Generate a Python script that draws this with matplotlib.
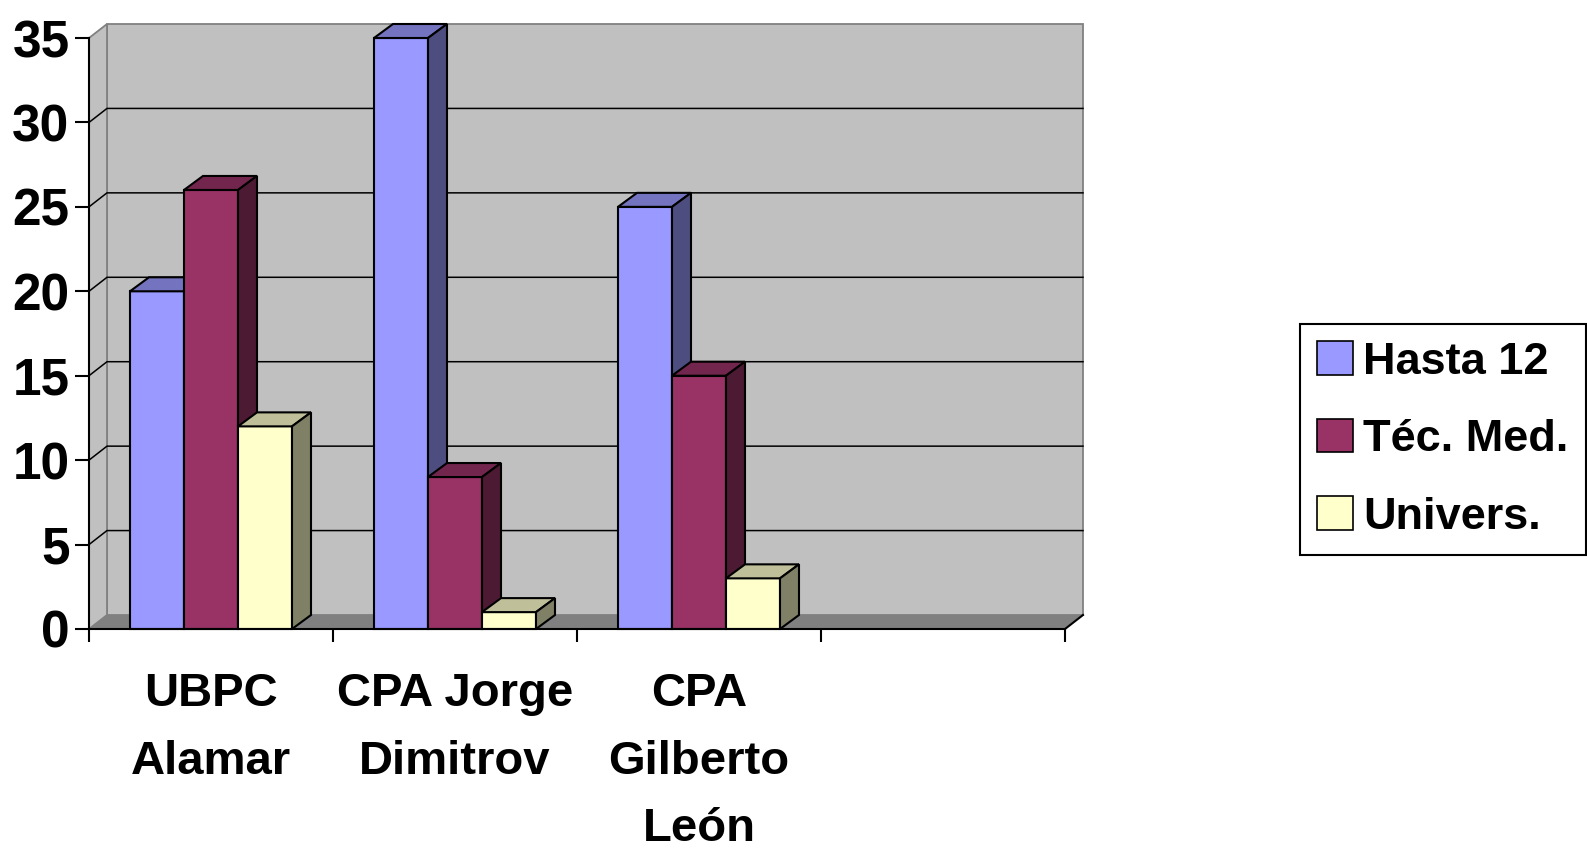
import matplotlib
matplotlib.use("Agg")
import matplotlib.pyplot as plt
from matplotlib.patches import Polygon, Patch
from matplotlib.lines import Line2D

# ---- data ----
categories = ["UBPC\nAlamar", "CPA Jorge\nDimitrov", "CPA\nGilberto\nLeón", ""]
series_names = ["Hasta 12", "Téc. Med.", "Univers."]
hasta_12 = [20, 35, 25]
tec_med = [26, 9, 15]
univers = [12, 1, 3]
y_ticks = [0, 5, 10, 15, 20, 25, 30, 35]

# ---- styling ----
front_colors = ["#9999FF", "#993366", "#FFFFCC"]
top_colors = ["#7373BF", "#73264D", "#BFBF99"]
side_colors = ["#4D4D80", "#4D1A33", "#808066"]
wall_color = "#C0C0C0"
floor_color = "#808080"
edge_gray = "#808080"
FONT = "Liberation Sans"

W_PX, H_PX, DPI = 1587, 851, 100
fig = plt.figure(figsize=(W_PX / DPI, H_PX / DPI), dpi=DPI)

ax_left, ax_right = 89, 1065
ax_top, ax_bottom = 38, 629
ax = fig.add_axes([ax_left / W_PX, (H_PX - ax_bottom) / H_PX,
                   (ax_right - ax_left) / W_PX, (ax_bottom - ax_top) / H_PX])
n_cat = len(categories)
y_max = y_ticks[-1]
ax.set_xlim(0, n_cat)
ax.set_ylim(0, y_max)
ax.patch.set_visible(False)

# pixel -> data unit conversions for the depth offsets
px_x = (ax_right - ax_left) / n_cat
px_y = (ax_bottom - ax_top) / y_max
wall_dx, wall_dy = 18 / px_x, 14 / px_y
bar_dx, bar_dy = 19 / px_x, 14 / px_y

# ---- walls and floor ----
back = Polygon([(wall_dx, wall_dy), (n_cat + wall_dx, wall_dy),
                (n_cat + wall_dx, y_max + wall_dy), (wall_dx, y_max + wall_dy)],
               closed=True, facecolor=wall_color, edgecolor=edge_gray, lw=1.3,
               clip_on=False, zorder=0.5)
side = Polygon([(0, 0), (0, y_max), (wall_dx, y_max + wall_dy), (wall_dx, wall_dy)],
               closed=True, facecolor=wall_color, edgecolor=edge_gray, lw=1.3,
               clip_on=False, zorder=0.6)
floor = Polygon([(0, 0), (n_cat, 0), (n_cat + wall_dx, wall_dy), (wall_dx, wall_dy)],
                closed=True, facecolor=floor_color, edgecolor="none",
                clip_on=False, zorder=0.7)
for p in (back, side, floor):
    ax.add_patch(p)

# gridlines on the back wall plus their diagonals on the side wall
for t in y_ticks[1:-1]:
    ax.add_line(Line2D([0, wall_dx, n_cat + wall_dx], [t, t + wall_dy, t + wall_dy],
                       color="black", lw=1.1, clip_on=False, zorder=0.8))
# right edge of the floor
ax.add_line(Line2D([n_cat, n_cat + wall_dx], [0, wall_dy], color="black", lw=1.5,
                   clip_on=False, zorder=0.8))

# ---- 3-D bars ----
series = [hasta_12, tec_med, univers]
bar_w = 54 / px_x
gap = (1 - len(series) * bar_w) / 2
z = 2.0
for j in range(len(hasta_12)):
    for i, vals in enumerate(series):
        v = vals[j]
        x0 = j + gap + i * bar_w
        z += 0.01
        ax.bar(x0, v, width=bar_w, align="edge", color=front_colors[i],
               edgecolor="black", lw=1.5, zorder=z, clip_on=False)
        top = Polygon([(x0, v), (x0 + bar_w, v), (x0 + bar_w + bar_dx, v + bar_dy),
                       (x0 + bar_dx, v + bar_dy)], closed=True,
                      facecolor=top_colors[i], edgecolor="black", lw=1.5,
                      joinstyle="miter", zorder=z, clip_on=False)
        sidef = Polygon([(x0 + bar_w, 0), (x0 + bar_w, v),
                         (x0 + bar_w + bar_dx, v + bar_dy), (x0 + bar_w + bar_dx, bar_dy)],
                        closed=True, facecolor=side_colors[i], edgecolor="black",
                        lw=1.5, joinstyle="miter", zorder=z, clip_on=False)
        ax.add_patch(top)
        ax.add_patch(sidef)

# ---- axes, ticks, labels ----
for s in ("top", "right"):
    ax.spines[s].set_visible(False)
for s in ("left", "bottom"):
    ax.spines[s].set_color("black")
    ax.spines[s].set_linewidth(1.5)
    ax.spines[s].set_zorder(5)

ax.set_yticks(y_ticks)
ax.set_yticklabels([str(t) for t in y_ticks],
                   fontdict={"family": FONT, "weight": "bold", "size": 37})
ax.tick_params(axis="y", direction="out", length=10, width=1.5, pad=4)

ax.set_xticks(range(n_cat + 1))
ax.set_xticklabels([])
ax.tick_params(axis="x", which="major", direction="out", length=9.5, width=1.5)
ax.set_xticks([k + 0.5 for k in range(n_cat)], minor=True)
ax.set_xticklabels(categories, minor=True, linespacing=1.69,
                   fontdict={"family": FONT, "weight": "bold", "size": 34})
ax.tick_params(axis="x", which="minor", length=0, pad=31)

# ---- legend ----
handles = [Patch(facecolor=c, edgecolor="black", lw=1.2) for c in front_colors]
leg = fig.legend(handles, series_names, loc="upper left",
                 bbox_to_anchor=(1300 / W_PX, 1 - 324 / H_PX),
                 bbox_transform=fig.transFigure, frameon=True, fancybox=False,
                 framealpha=1, edgecolor="black", borderaxespad=0,
                 borderpad=0.38, handlelength=0.8, handleheight=0.76,
                 handletextpad=0.22, labelspacing=0.8,
                 prop={"family": FONT, "weight": "bold", "size": 32.5})
leg.get_frame().set_linewidth(1.5)

fig.savefig("out.png", dpi=DPI)
